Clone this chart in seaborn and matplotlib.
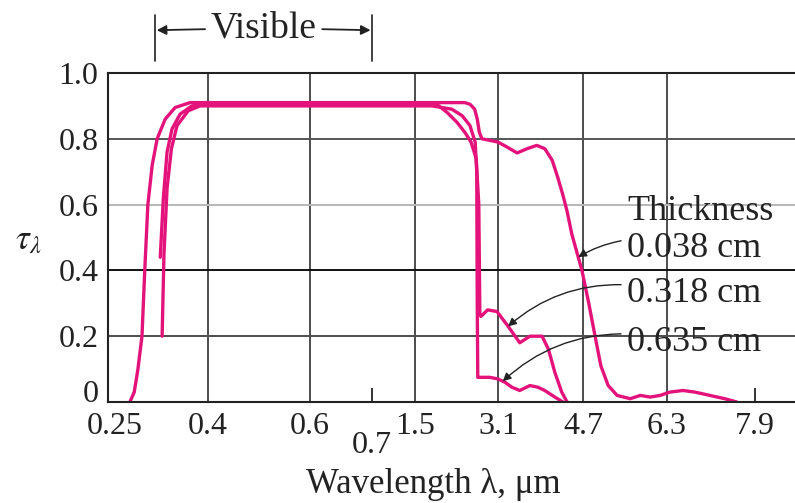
import numpy as np
import pandas as pd
import matplotlib
matplotlib.use('Agg')
import matplotlib.pyplot as plt
import seaborn as sns

# --- values (wavelength in um, transmissivity) ---
thickness_labels = ['0.038 cm', '0.318 cm', '0.635 cm']

wl_038 = [0.274, 0.281, 0.287, 0.2935, 0.298, 0.303, 0.310, 0.318, 0.331, 0.347, 0.371,
          0.58, 1.5, 2.46, 2.56, 2.65, 2.70, 2.74, 2.79, 2.95, 3.10, 3.27, 3.46, 3.65,
          3.83, 3.98, 4.12, 4.23, 4.32, 4.40, 4.49, 4.68, 4.81, 4.93, 5.04, 5.18, 5.35,
          5.60, 5.79, 5.98, 6.17, 6.35, 6.59, 6.81, 7.08, 7.35, 7.57]
tau_038 = [0.0, 0.03, 0.1, 0.2, 0.4, 0.6, 0.72, 0.8, 0.86, 0.895, 0.91,
           0.91, 0.91, 0.91, 0.905, 0.89, 0.86, 0.82, 0.80, 0.795, 0.79, 0.775, 0.757, 0.77,
           0.78, 0.77, 0.735, 0.68, 0.63, 0.58, 0.51, 0.40, 0.30, 0.20, 0.11, 0.05, 0.02,
           0.01, 0.02, 0.015, 0.02, 0.03, 0.035, 0.03, 0.02, 0.01, 0.0]

wl_318 = [0.323, 0.328, 0.334, 0.342, 0.355, 0.374, 0.395, 1.92, 2.12, 2.31, 2.46, 2.58,
          2.68, 2.73, 2.75, 2.77, 2.90, 3.08, 3.29, 3.51, 3.70, 3.93, 4.05, 4.17, 4.30, 4.40]
tau_318 = [0.44, 0.62, 0.76, 0.83, 0.875, 0.9, 0.905, 0.905, 0.88, 0.85, 0.82, 0.79,
           0.74, 0.60, 0.27, 0.26, 0.28, 0.275, 0.23, 0.18, 0.20, 0.20, 0.16, 0.09, 0.03, 0.0]

wl_635 = [0.326, 0.329, 0.334, 0.341, 0.350, 0.368, 0.387, 1.83, 2.21, 2.41, 2.56, 2.66,
          2.69, 2.70, 2.71, 2.94, 3.10, 3.23, 3.36, 3.51, 3.70, 3.85, 3.98, 4.17, 4.32]
tau_635 = [0.2, 0.45, 0.65, 0.77, 0.84, 0.885, 0.9, 0.9, 0.89, 0.87, 0.84, 0.79,
           0.70, 0.3, 0.075, 0.075, 0.07, 0.06, 0.045, 0.035, 0.05, 0.045, 0.035, 0.015, 0.0]

x_grid_ticks = [0.4, 0.6, 1.5, 3.1, 4.7, 6.3]
x_extra_ticks = [0.25, 0.7, 7.9]
y_ticks = [0, 0.2, 0.4, 0.6, 0.8, 1.0]
y_ticklabels = ['0', '0.2', '0.4', '0.6', '0.8', '1.0']
visible_band = [0.315, 0.7]
arrow_wl = [4.61, 3.29, 3.19]

MAGENTA = '#e3137b'
INK = '#222222'

# the original axis is stretched piecewise: tick wavelength -> position along the axis
KNOT_WL = np.array([0.25, 0.4, 0.6, 0.7, 1.5, 3.1, 4.7, 6.3, 7.9])
KNOT_POS = np.array([115, 208, 310, 372, 415, 498, 583, 667, 755], float)


def _piecewise(x, xs, ys):
    x = np.asarray(x, float)
    lo = ys[0] + (x - xs[0]) * (ys[1] - ys[0]) / (xs[1] - xs[0])
    hi = ys[-1] + (x - xs[-1]) * (ys[-1] - ys[-2]) / (xs[-1] - xs[-2])
    return np.where(x < xs[0], lo, np.where(x > xs[-1], hi, np.interp(x, xs, ys)))


def fwd(x):
    return _piecewise(x, KNOT_WL, KNOT_POS)


def inv(u):
    return _piecewise(u, KNOT_POS, KNOT_WL)


sns.set_theme(style='white')
plt.rcParams['font.family'] = ['Liberation Serif', 'DejaVu Serif']
plt.rcParams['mathtext.fontset'] = 'stix'

curves = [(wl_038, tau_038), (wl_318, tau_318), (wl_635, tau_635)]
df = pd.concat([pd.DataFrame({'wavelength': wl, 'tau': tau, 'thickness': lab})
                for lab, (wl, tau) in zip(thickness_labels, curves)])

fig = plt.figure(figsize=(7.95, 5.03), dpi=100)
ax = fig.add_axes([108 / 795, 101 / 503, 687 / 795, 329 / 503])
ax.set_xscale('function', functions=(fwd, inv))

sns.lineplot(data=df, x='wavelength', y='tau', hue='thickness',
             palette=[MAGENTA] * 3, estimator=None, sort=False,
             lw=2.4, legend=False, ax=ax)
for ln in ax.lines:
    ln.set_solid_joinstyle('round')

ax.set_xlim(float(inv(108)), float(inv(795)))
ax.set_ylim(0, 1.0)

# ticks and grid
ax.set_xticks(x_grid_ticks, [str(v) for v in x_grid_ticks])
ax.set_xticks(x_extra_ticks, [str(v) for v in x_extra_ticks], minor=True)
ax.set_yticks(y_ticks, y_ticklabels)
ax.tick_params(axis='both', which='major', length=0, labelsize=23, labelcolor=INK)
ax.tick_params(axis='x', which='major', pad=7)
ax.tick_params(axis='y', which='major', pad=7)
ax.tick_params(axis='x', which='minor', bottom=True, direction='in', length=10,
               width=1.4, color='#333333', labelsize=23, labelcolor=INK, pad=7)
mt = ax.xaxis.get_minor_ticks()
mt[0].tick1line.set_visible(False)
mt[1].set_pad(21)
# the "0" on the y axis sits on the bottom line
ax.yaxis.get_major_ticks()[0].label1.set_va('baseline')

ax.set_axisbelow(True)
ax.grid(True, which='major', axis='both', color='#4d4d4d', lw=1.4)
y_grid_colors = ['#4d4d4d', '#4d4d4d', '#111111', '#b8b8b8', '#555555', '#4d4d4d']
for gl, c in zip(ax.yaxis.get_gridlines(), y_grid_colors):
    gl.set_color(c)

for side in ['left', 'bottom', 'top']:
    ax.spines[side].set_color(INK)
    ax.spines[side].set_linewidth(1.5)
ax.spines['right'].set_visible(False)

ax.set_xlabel('Wavelength λ, μm', fontsize=25, color=INK)
ax.xaxis.set_label_coords(0.473, -0.2)
ax.set_ylabel(r'$\tau_\lambda$', rotation=0, fontsize=25, ha='center', va='center',
              color=INK)
ax.yaxis.set_label_coords(-0.116, 0.49)

# visible band bracket
trans = ax.get_xaxis_transform()
for xv in visible_band:
    ax.axvline(xv, ymin=1.035, ymax=1.176, color='#333333', lw=1.3, clip_on=False)
mid = float(inv((fwd(visible_band[0]) + fwd(visible_band[1])) / 2))
arrow_kw = dict(arrowstyle='-|>', color=INK, lw=1.3, mutation_scale=14,
                shrinkA=0, shrinkB=1)
vis = ax.annotate('Visible', xy=(visible_band[0], 1.13), xycoords=trans,
                  xytext=(mid, 1.137), textcoords=trans, ha='center', va='center',
                  fontsize=27, color=INK,
                  bbox=dict(boxstyle='square,pad=0.15', fc='none', ec='none'),
                  arrowprops=arrow_kw)
ax.annotate('', xy=(visible_band[1], 1.13), xycoords=trans,
            xytext=(mid, 1.137), textcoords=trans,
            arrowprops=dict(arrow_kw, patchA=vis.get_bbox_patch()))

# thickness labels with arrows
ax.text(5.54, 0.578, 'Thickness', fontsize=26, ha='left', va='center', color=INK)
label_tau = [0.468, 0.331, 0.182]
rads = [0.1, 0.2, 0.2]
for lab, (wl, tau), awl, ly, rad in zip(thickness_labels, curves, arrow_wl, label_tau, rads):
    ty = float(np.interp(awl, wl, tau))
    ax.annotate(lab, xy=(awl, ty), xytext=(5.54, ly), ha='left', va='center',
                fontsize=26, color=INK,
                arrowprops=dict(arrowstyle='-|>', color=INK, lw=1.0,
                                mutation_scale=12, shrinkA=2, shrinkB=0,
                                relpos=(0, 0.75), connectionstyle=f'arc3,rad={rad}'))

fig.savefig('out.png', dpi=100)
